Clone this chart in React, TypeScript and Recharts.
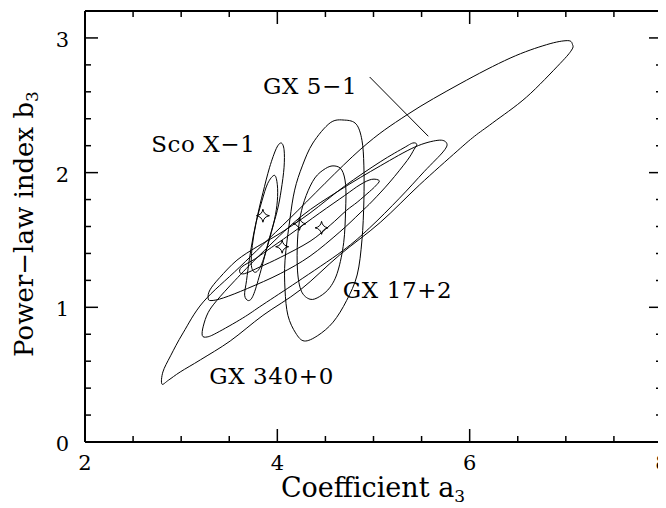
import React from 'react';
import { ScatterChart, Scatter, XAxis, YAxis, ReferenceLine } from 'recharts';

type Pt = { x: number; y: number };

// axis ticks (minor every 0.5 / 0.2, labels on the majors)
const xTicks = [2, 2.5, 3, 3.5, 4, 4.5, 5, 5.5, 6, 6.5, 7, 7.5, 8];
const xLabelTicks = [2, 4, 6, 8];
const yTicks = [0, 0.2, 0.4, 0.6, 0.8, 1, 1.2, 1.4, 1.6, 1.8, 2, 2.2, 2.4, 2.6, 2.8, 3, 3.2];
const yLabelTicks = [0, 1, 2, 3];

// confidence contours
const gx340Outer: Pt[] = [
  { x: 2.8, y: 0.43 }, { x: 2.81, y: 0.52 }, { x: 2.89, y: 0.64 }, { x: 3.02, y: 0.81 },
  { x: 3.23, y: 1.04 }, { x: 3.61, y: 1.3 }, { x: 4.13, y: 1.66 }, { x: 4.86, y: 2.17 },
  { x: 5.35, y: 2.43 }, { x: 5.9, y: 2.66 }, { x: 6.42, y: 2.85 }, { x: 6.8, y: 2.95 },
  { x: 7.02, y: 2.98 }, { x: 7.07, y: 2.95 }, { x: 7.06, y: 2.91 }, { x: 6.94, y: 2.81 },
  { x: 6.59, y: 2.56 }, { x: 6.24, y: 2.37 }, { x: 6.05, y: 2.27 }, { x: 5.87, y: 2.16 },
  { x: 5.48, y: 1.91 }, { x: 5.07, y: 1.63 }, { x: 4.65, y: 1.39 }, { x: 4.24, y: 1.13 },
  { x: 3.85, y: 0.94 }, { x: 3.51, y: 0.75 }, { x: 3.2, y: 0.61 }, { x: 2.99, y: 0.52 },
  { x: 2.87, y: 0.46 },
];
const gx340Inner: Pt[] = [
  { x: 3.22, y: 0.79 }, { x: 3.23, y: 0.86 }, { x: 3.28, y: 0.96 }, { x: 3.37, y: 1.05 },
  { x: 3.56, y: 1.2 }, { x: 3.82, y: 1.39 }, { x: 4.24, y: 1.67 }, { x: 4.65, y: 1.87 },
  { x: 5.07, y: 2.05 }, { x: 5.43, y: 2.19 }, { x: 5.67, y: 2.24 }, { x: 5.76, y: 2.22 },
  { x: 5.73, y: 2.16 }, { x: 5.53, y: 2.01 }, { x: 5.27, y: 1.81 }, { x: 4.96, y: 1.59 },
  { x: 4.68, y: 1.42 }, { x: 4.21, y: 1.19 }, { x: 3.85, y: 1.02 }, { x: 3.64, y: 0.92 },
  { x: 3.37, y: 0.81 }, { x: 3.27, y: 0.78 },
];
const gx51Outer: Pt[] = [
  { x: 3.28, y: 1.07 }, { x: 3.3, y: 1.13 }, { x: 3.4, y: 1.22 }, { x: 3.58, y: 1.35 },
  { x: 3.79, y: 1.45 }, { x: 4.03, y: 1.55 }, { x: 4.34, y: 1.7 }, { x: 4.7, y: 1.9 },
  { x: 5.07, y: 2.08 }, { x: 5.33, y: 2.19 }, { x: 5.41, y: 2.22 }, { x: 5.45, y: 2.21 },
  { x: 5.42, y: 2.17 }, { x: 5.35, y: 2.09 }, { x: 5.17, y: 1.93 }, { x: 4.99, y: 1.79 },
  { x: 4.86, y: 1.7 }, { x: 4.65, y: 1.56 }, { x: 4.34, y: 1.38 }, { x: 4.03, y: 1.25 },
  { x: 3.69, y: 1.14 }, { x: 3.44, y: 1.07 }, { x: 3.31, y: 1.05 },
];
const gx51Inner: Pt[] = [
  { x: 3.61, y: 1.26 }, { x: 3.63, y: 1.3 }, { x: 3.77, y: 1.36 }, { x: 3.89, y: 1.42 },
  { x: 4.13, y: 1.54 }, { x: 4.44, y: 1.7 }, { x: 4.7, y: 1.83 }, { x: 4.86, y: 1.91 },
  { x: 4.98, y: 1.95 }, { x: 5.06, y: 1.94 }, { x: 5.02, y: 1.9 }, { x: 4.96, y: 1.86 },
  { x: 4.83, y: 1.78 }, { x: 4.72, y: 1.72 }, { x: 4.55, y: 1.61 }, { x: 4.34, y: 1.49 },
  { x: 4.03, y: 1.37 }, { x: 3.82, y: 1.3 }, { x: 3.66, y: 1.25 },
];
const scoOuter: Pt[] = [
  { x: 4.04, y: 2.22 }, { x: 4.07, y: 2.17 }, { x: 4.07, y: 2.04 }, { x: 4.04, y: 1.87 },
  { x: 4.0, y: 1.72 }, { x: 3.92, y: 1.52 }, { x: 3.82, y: 1.25 }, { x: 3.75, y: 1.09 },
  { x: 3.7, y: 1.05 }, { x: 3.66, y: 1.09 }, { x: 3.68, y: 1.2 }, { x: 3.71, y: 1.36 },
  { x: 3.75, y: 1.53 }, { x: 3.8, y: 1.7 }, { x: 3.85, y: 1.85 }, { x: 3.92, y: 2.04 },
  { x: 3.99, y: 2.18 },
];
const scoInner: Pt[] = [
  { x: 3.97, y: 1.98 }, { x: 4.0, y: 1.91 }, { x: 4.0, y: 1.79 }, { x: 3.97, y: 1.65 },
  { x: 3.9, y: 1.46 }, { x: 3.83, y: 1.31 }, { x: 3.77, y: 1.26 }, { x: 3.73, y: 1.31 },
  { x: 3.74, y: 1.46 }, { x: 3.78, y: 1.63 }, { x: 3.84, y: 1.79 }, { x: 3.9, y: 1.92 },
];
const gx172Outer: Pt[] = [
  { x: 4.7, y: 2.39 }, { x: 4.82, y: 2.36 }, { x: 4.88, y: 2.24 }, { x: 4.9, y: 2.05 },
  { x: 4.9, y: 1.79 }, { x: 4.88, y: 1.5 }, { x: 4.83, y: 1.24 }, { x: 4.72, y: 1.05 },
  { x: 4.58, y: 0.89 }, { x: 4.42, y: 0.79 }, { x: 4.28, y: 0.75 }, { x: 4.19, y: 0.81 },
  { x: 4.11, y: 0.94 }, { x: 4.08, y: 1.13 }, { x: 4.08, y: 1.35 }, { x: 4.13, y: 1.65 },
  { x: 4.18, y: 1.87 }, { x: 4.26, y: 2.05 }, { x: 4.37, y: 2.22 }, { x: 4.55, y: 2.37 },
];
const gx172Inner: Pt[] = [
  { x: 4.59, y: 2.05 }, { x: 4.67, y: 2.02 }, { x: 4.71, y: 1.91 }, { x: 4.71, y: 1.72 },
  { x: 4.69, y: 1.48 }, { x: 4.63, y: 1.27 }, { x: 4.55, y: 1.15 }, { x: 4.44, y: 1.08 },
  { x: 4.34, y: 1.06 }, { x: 4.25, y: 1.12 }, { x: 4.21, y: 1.27 }, { x: 4.21, y: 1.5 },
  { x: 4.24, y: 1.68 }, { x: 4.3, y: 1.83 }, { x: 4.39, y: 1.96 }, { x: 4.5, y: 2.03 },
];

// best-fit positions
const bestFits: Pt[] = [
  { x: 3.85, y: 1.68 },
  { x: 4.23, y: 1.62 },
  { x: 4.46, y: 1.59 },
  { x: 4.05, y: 1.45 },
];

const sourceNames = ['GX 5\u22121', 'Sco X\u22121', 'GX 17+2', 'GX 340+0'];
const nameX = [4.34, 3.23, 5.25, 3.94];
const nameY = [2.64, 2.21, 1.13, 0.49];
const nameData = sourceNames.map((name, i) => ({ name, x: nameX[i], y: nameY[i] }));

const pointer = [{ x: 4.96, y: 2.71 }, { x: 5.57, y: 2.27 }];

const contours = [gx340Outer, gx340Inner, gx51Outer, gx51Inner, scoOuter, scoInner, gx172Outer, gx172Inner];

const FONT = '"DejaVu Serif", serif';

// closed catmull-rom through the contour points
const loopPath = (pts: { x: number; y: number }[]) => {
  const n = pts.length;
  if (!n) return '';
  let d = `M${pts[0].x},${pts[0].y}`;
  for (let i = 0; i < n; i++) {
    const p0 = pts[(i - 1 + n) % n];
    const p1 = pts[i];
    const p2 = pts[(i + 1) % n];
    const p3 = pts[(i + 2) % n];
    const c1x = p1.x + (p2.x - p0.x) / 6;
    const c1y = p1.y + (p2.y - p0.y) / 6;
    const c2x = p2.x - (p3.x - p1.x) / 6;
    const c2y = p2.y - (p3.y - p1.y) / 6;
    d += ` C${c1x},${c1y} ${c2x},${c2y} ${p2.x},${p2.y}`;
  }
  return d + 'Z';
};

const LoopLine = (props: any) => (
  <path d={loopPath(props.points || [])} fill="none" stroke="#000" strokeWidth={1} />
);

const Star = (props: any) => {
  const { cx, cy } = props;
  const r = 6.5;
  const k = 0.9;
  return (
    <path
      d={`M${cx},${cy - r} Q${cx + k},${cy - k} ${cx + r},${cy} Q${cx + k},${cy + k} ${cx},${cy + r} Q${cx - k},${cy + k} ${cx - r},${cy} Q${cx - k},${cy - k} ${cx},${cy - r}Z`}
      fill="none"
      stroke="#000"
      strokeWidth={1}
    />
  );
};

const NameLabel = (props: any) => (
  <text x={props.cx} y={props.cy} dy={8} textAnchor="middle" fontFamily={FONT} fontSize={23} letterSpacing={0.6} fill="#000">
    {props.payload.name}
  </text>
);

const makeXTick = (side: 'bottom' | 'top') => (props: any) => {
  const { x, y, payload } = props;
  const major = xLabelTicks.includes(payload.value);
  const len = major ? 13 : 6;
  const dir = side === 'bottom' ? -1 : 1;
  return (
    <g>
      <line x1={x} x2={x} y1={y} y2={y + dir * len} stroke="#000" strokeWidth={1.5} />
      {side === 'bottom' && major && (
        <text x={x} y={y + 28} textAnchor="middle" fontFamily={FONT} fontSize={21} fill="#000">
          {payload.value}
        </text>
      )}
    </g>
  );
};

const makeYTick = (side: 'left' | 'right') => (props: any) => {
  const { x, y, payload } = props;
  const major = yLabelTicks.includes(payload.value);
  const len = major ? 13 : 6;
  const dir = side === 'left' ? 1 : -1;
  return (
    <g>
      <line x1={x} x2={x + dir * len} y1={y} y2={y} stroke="#000" strokeWidth={1.5} />
      {side === 'left' && major && (
        <text x={x - 16} y={y + 9} textAnchor="end" fontFamily={FONT} fontSize={21} fill="#000">
          {payload.value}
        </text>
      )}
    </g>
  );
};

const axisLine = { stroke: '#000', strokeWidth: 2 };

export default function App() {
  return (
    <div style={{ position: 'relative', width: 658, height: 500, background: '#fff' }}>
      <ScatterChart width={658} height={500} margin={{ top: 2, right: 3, bottom: 65, left: 76 }}>
        <XAxis
          xAxisId="b"
          type="number"
          dataKey="x"
          domain={[2, 8]}
          ticks={xTicks}
          interval={0}
          allowDataOverflow
          height={1}
          tickSize={0}
          tickMargin={0}
          tickLine={false}
          axisLine={axisLine}
          tick={makeXTick('bottom')}
        />
        <XAxis
          xAxisId="t"
          orientation="top"
          type="number"
          dataKey="x"
          domain={[2, 8]}
          ticks={xTicks}
          interval={0}
          allowDataOverflow
          height={1}
          tickSize={0}
          tickMargin={0}
          tickLine={false}
          axisLine={axisLine}
          tick={makeXTick('top')}
        />
        <YAxis
          yAxisId="l"
          type="number"
          dataKey="y"
          domain={[0, 3.2]}
          ticks={yTicks}
          interval={0}
          allowDataOverflow
          width={1}
          tickSize={0}
          tickMargin={0}
          tickLine={false}
          axisLine={axisLine}
          tick={makeYTick('left')}
        />
        <YAxis
          yAxisId="r"
          orientation="right"
          type="number"
          dataKey="y"
          domain={[0, 3.2]}
          ticks={yTicks}
          interval={0}
          allowDataOverflow
          width={1}
          tickSize={0}
          tickMargin={0}
          tickLine={false}
          axisLine={axisLine}
          tick={makeYTick('right')}
        />
        {contours.map((c, i) => (
          <Scatter
            key={i}
            xAxisId="b"
            yAxisId="l"
            data={c}
            line={LoopLine}
            shape={() => <g />}
            isAnimationActive={false}
            legendType="none"
          />
        ))}
        <Scatter xAxisId="b" yAxisId="l" data={bestFits} shape={Star} isAnimationActive={false} legendType="none" />
        <Scatter xAxisId="b" yAxisId="l" data={nameData} shape={NameLabel} isAnimationActive={false} legendType="none" />
        <ReferenceLine xAxisId="b" yAxisId="l" segment={pointer} stroke="#000" strokeWidth={1} ifOverflow="visible" />
      </ScatterChart>
      <svg width={658} height={500} style={{ position: 'absolute', left: 0, top: 0, pointerEvents: 'none' }}>
        <text x={365} y={489} textAnchor="middle" fontFamily={FONT} fontSize={27} fill="#000">
          Coefficient a<tspan fontSize={17} dy={5}>3</tspan>
        </text>
        <text
          x={25}
          y={216}
          transform="rotate(-90 25 216)"
          textAnchor="middle"
          fontFamily={FONT}
          fontSize={26}
          fill="#000"
        >
          Power{'\u2212'}law index b<tspan fontSize={17} dy={5}>3</tspan>
        </text>
      </svg>
    </div>
  );
}
